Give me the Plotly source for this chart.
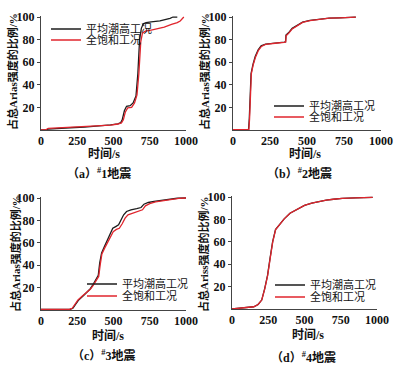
import plotly.graph_objects as go

# ---------------- data ----------------
LEGEND_NAMES = ["平均潮高工况", "全饱和工况"]
X_TICKS = [0, 250, 500, 750, 1000]
Y_TICKS = [20, 40, 60, 80, 100]
CAPTIONS = ["（a）<sup>#</sup>1地震", "（b）<sup>#</sup>2地震", "（c）<sup>#</sup>3地震", "（d）<sup>#</sup>4地震"]
Y_TITLES = ["占总Arias强度的比例/%", "占总Arias强度的比例/%", "占总Arias强度的比例/%", "占总Ariss强度的比例/%"]
X_TITLE = "时间/s"

# #1 earthquake
a_t_mean = [0, 30, 50, 100, 200, 300, 400, 480, 530, 550, 560, 575, 590, 615, 635, 655, 668, 680, 692, 705, 725, 760, 820, 860, 890, 910, 940]
a_p_mean = [0, 0, 0.8, 1.3, 2.0, 2.6, 3.5, 4.5, 5.5, 6.5, 9, 17, 21, 21.5, 24, 30, 50, 80, 90, 94, 95, 95.8, 96.5, 97.5, 98.8, 100, 100]
a_t_sat = [0, 30, 50, 100, 200, 300, 400, 480, 530, 555, 568, 582, 598, 625, 645, 662, 675, 688, 700, 720, 760, 800, 850, 900, 940, 960, 985]
a_p_sat = [0, 0, 1.5, 1.8, 2.3, 2.8, 3.5, 4.3, 5.3, 6.3, 9, 16, 19.5, 20, 24, 31, 50, 78, 86, 87.5, 88.5, 89.5, 91, 93.5, 95, 96.5, 100]

# #2 earthquake
b_t_mean = [0, 105, 110, 115, 122, 135, 150, 170, 190, 220, 260, 300, 345, 355, 358, 375, 400, 430, 470, 520, 580, 650, 720, 800, 830]
b_p_mean = [0.3, 0.3, 10, 35, 50, 58, 65, 71, 74.5, 76, 76.8, 77.2, 77.8, 78, 84, 86, 90, 92.5, 95.5, 97, 98, 99, 99.3, 99.8, 100]
b_t_sat = [0, 107, 112, 117, 124, 137, 152, 172, 192, 220, 260, 300, 345, 356, 359, 376, 400, 430, 470, 520, 580, 650, 720, 800, 830]
b_p_sat = [0.3, 0.3, 10, 35, 50, 58, 64.5, 70.5, 74, 75.8, 76.6, 77.0, 77.6, 77.9, 83.5, 85.5, 89.5, 92.2, 95.3, 96.9, 98, 99, 99.3, 99.8, 100]

# #3 earthquake
c_t_mean = [0, 200, 220, 240, 260, 290, 320, 340, 360, 380, 395, 405, 418, 435, 455, 475, 495, 515, 535, 550, 570, 590, 620, 660, 690, 710, 740, 780, 830, 880, 940, 1000]
c_p_mean = [0.5, 0.5, 1.5, 5, 9, 12.5, 16, 19, 23, 27, 31, 42, 51, 56, 62, 68, 73, 74.5, 76, 80, 85, 88, 89.5, 90.5, 91.5, 94.5, 96, 97, 98, 99.2, 99.8, 100]
c_t_sat = [0, 195, 215, 235, 255, 285, 315, 340, 360, 380, 398, 408, 420, 438, 458, 478, 498, 520, 540, 560, 580, 600, 630, 670, 700, 720, 750, 790, 840, 890, 950, 1000]
c_p_sat = [0.5, 0.5, 1.5, 5, 9, 12.5, 16, 18.5, 22, 26, 30, 40, 50, 55, 60, 66, 70, 72, 73, 77, 82, 85, 86.5, 88, 89.5, 93, 95, 96.5, 97.5, 98.8, 99.7, 100]

# #4 earthquake
d_t_mean = [0, 50, 100, 150, 180, 205, 225, 245, 262, 280, 300, 330, 360, 400, 450, 500, 550, 600, 650, 700, 760, 850, 970]
d_p_mean = [0, 0.5, 1, 2, 4, 8, 18, 30, 45, 60, 71, 76, 80.5, 85.5, 89, 92.5, 94.5, 96, 97.2, 98, 98.8, 99.3, 99.6]
d_t_sat = [0, 50, 100, 150, 180, 205, 226, 246, 263, 281, 301, 330, 360, 400, 450, 500, 550, 600, 650, 700, 760, 850, 970]
d_p_sat = [0, 0.5, 1, 2, 4, 8, 18, 30, 45, 60, 71, 76, 80.5, 85.5, 89, 92.5, 94.5, 96, 97.2, 98, 98.8, 99.3, 99.6]

PANELS = [
    (a_t_mean, a_p_mean, a_t_sat, a_p_sat),
    (b_t_mean, b_p_mean, b_t_sat, b_p_sat),
    (c_t_mean, c_p_mean, c_t_sat, c_p_sat),
    (d_t_mean, d_p_mean, d_t_sat, d_p_sat),
]

# ---------------- layout ----------------
W, H = 396, 370
BLACK = "#1c1c1c"
RED = "#e0252d"
NUM_FONT = "Liberation Serif, Times New Roman, serif"
CJK_FONT = "Liberation Serif, Noto Sans CJK SC, serif"

# pixel geometry: (x0px, x1000px, y0px, y101px)
GEOM = [
    (41, 186, 130, 15.9),
    (233, 381, 130, 15.9),
    (41, 186, 310, 196.9),
    (232, 377, 309, 195.9),
]
# legend positions (legend-left px, row1 y px, row2 y px)
LEG = [(46, 29, 40), (269, 106, 117), (82, 284, 296), (270, 285, 297)]
# label positions
XTITLE_POS = [(104, 154), (305, 154), (108, 336), (308, 335)]
YTITLE_POS = [(12, 72), (204, 72), (15, 254), (203, 254)]
CAP_POS = [(99, 173), (299, 173), (104, 355), (303, 357)]

fig = go.Figure()
layout = dict(
    width=W, height=H, margin=dict(l=0, r=0, t=0, b=0, autoexpand=False),
    paper_bgcolor="white", plot_bgcolor="white", showlegend=True,
    annotations=[],
)

leg_idx = 0
for i, (tm, pm, ts, ps) in enumerate(PANELS):
    n = "" if i == 0 else str(i + 1)
    x0, x1, y0, y1 = GEOM[i]
    lx, ly1, ly2 = LEG[i]
    for j, (tt, pp, col, name, ly) in enumerate([
        (tm, pm, BLACK, LEGEND_NAMES[0], ly1),
        (ts, ps, RED, LEGEND_NAMES[1], ly2),
    ]):
        leg_idx += 1
        lname = "legend" if leg_idx == 1 else f"legend{leg_idx}"
        fig.add_trace(go.Scatter(
            x=tt, y=pp, mode="lines", name=name,
            line=dict(color=col, width=1.3),
            xaxis="x" + n, yaxis="y" + n, legend=lname,
        ))
        layout[lname] = dict(
            x=lx / W, y=1 - ly / H, xanchor="left", yanchor="middle",
            bgcolor="rgba(0,0,0,0)", borderwidth=0,
            font=dict(family=CJK_FONT, size=11, color="#111"),
            tracegroupgap=0, itemwidth=30,
        )
    ax = dict(
        domain=[x0 / W, x1 / W], range=[0, 1000], tickvals=X_TICKS,
        showgrid=False, zeroline=False, showline=True, linecolor="#444",
        linewidth=1, ticks="", automargin=False,
        tickfont=dict(family=NUM_FONT, size=12, color="#111", weight="bold"),
        anchor="y" + n, fixedrange=True,
    )
    ay = dict(
        domain=[1 - y0 / H, 1 - y1 / H], range=[0, 101], tickvals=Y_TICKS,
        showgrid=False, zeroline=False, showline=True, linecolor="#444",
        linewidth=1, ticks="outside", ticklen=3, tickcolor="#444", automargin=False,
        tickfont=dict(family=NUM_FONT, size=12, color="#111", weight="bold"),
        anchor="x" + n, fixedrange=True,
    )
    layout["xaxis" + n] = ax
    layout["yaxis" + n] = ay

    tx, ty = XTITLE_POS[i]
    layout["annotations"].append(dict(
        text=X_TITLE, x=tx / W, y=1 - ty / H, xref="paper", yref="paper",
        showarrow=False, xanchor="center", yanchor="middle",
        font=dict(family=CJK_FONT, size=12, color="#111", weight="bold")))
    yx, yy = YTITLE_POS[i]
    layout["annotations"].append(dict(
        text=Y_TITLES[i], x=yx / W, y=1 - yy / H, xref="paper", yref="paper",
        showarrow=False, xanchor="center", yanchor="middle", textangle=-90,
        font=dict(family=CJK_FONT, size=11, color="#111", weight="bold")))
    cx, cy = CAP_POS[i]
    layout["annotations"].append(dict(
        text=CAPTIONS[i], x=cx / W, y=1 - cy / H, xref="paper", yref="paper",
        showarrow=False, xanchor="center", yanchor="middle",
        font=dict(family=CJK_FONT, size=12, color="#111", weight="bold")))

fig.update_layout(**layout)
fig.write_html(
    "out.html",
    config={"displayModeBar": False},
    post_script="document.body.style.margin='0';document.body.style.padding='0';",
)
